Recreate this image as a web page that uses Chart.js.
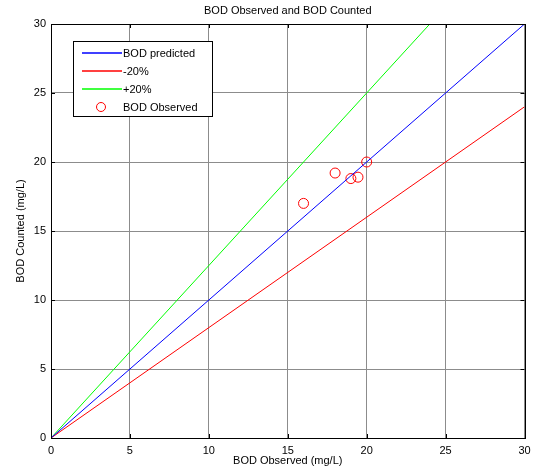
<!DOCTYPE html>
<html>
<head>
<meta charset="utf-8">
<script src="https://cdn.jsdelivr.net/npm/chart.js@4.4.1/dist/chart.umd.min.js"></script>
<style>
  html, body { margin: 0; padding: 0; background: #fff; }
  canvas { display: block; }
</style>
</head>
<body>
<canvas id="chart" width="533" height="475"></canvas>
<script>
// axis ticks (both axes 0..30)
const axisTicks = [0, 5, 10, 15, 20, 25, 30];

// reference lines: end points
const predictedX = [0, 30], predictedY = [0, 30];
const minusX = [0, 30], minusY = [0, 24];
const plusX = [0, 24], plusY = [0, 30];

// observed points
const observedX = [16, 18, 19, 19.45, 20];
const observedY = [17, 19.2, 18.8, 18.9, 20];

const seriesLabels = ['BOD predicted', '-20%', '+20%', 'BOD Observed'];
const seriesColors = ['#0000ff', '#ff0000', '#00ff00', '#ff0000'];

const titleText = 'BOD Observed and BOD Counted';
const xTitle = 'BOD Observed (mg/L)';
const yTitle = 'BOD Counted (mg/L)';

const FONT = "'Liberation Sans', Arial, sans-serif";

const pts = (xs, ys) => xs.map((x, i) => ({ x, y: ys[i] }));

const lineSet = (i, xs, ys) => ({
  label: seriesLabels[i],
  data: pts(xs, ys),
  showLine: true,
  borderColor: seriesColors[i],
  backgroundColor: seriesColors[i],
  borderWidth: 1,
  pointRadius: 0,
  pointHoverRadius: 0,
  fill: false,
});

// frame, inward ticks, titles and legend box
const decor = {
  id: 'decor',
  afterDatasetsDraw(chart) {
    const { ctx, chartArea: a, scales: { x, y } } = chart;
    ctx.save();
    ctx.strokeStyle = '#000';
    ctx.lineWidth = 1;
    ctx.strokeRect(Math.round(a.left) + 0.5, Math.round(a.top) + 0.5,
      Math.round(a.right - a.left), Math.round(a.bottom - a.top));
    ctx.beginPath();
    axisTicks.forEach(v => {
      const px = Math.round(x.getPixelForValue(v)) + 0.5;
      const py = Math.round(y.getPixelForValue(v)) + 0.5;
      ctx.moveTo(px, a.bottom); ctx.lineTo(px, a.bottom - 4);
      ctx.moveTo(px, a.top); ctx.lineTo(px, a.top + 4);
      ctx.moveTo(a.left, py); ctx.lineTo(a.left + 4, py);
      ctx.moveTo(a.right, py); ctx.lineTo(a.right - 4, py);
    });
    ctx.stroke();

    // texts
    ctx.fillStyle = '#000';
    ctx.font = '11px ' + FONT;
    ctx.textAlign = 'center';
    ctx.textBaseline = 'middle';
    const cx = (a.left + a.right) / 2;
    ctx.fillText(titleText, cx, 11);
    ctx.fillText(xTitle, cx, 461);
    ctx.save();
    ctx.translate(21, (a.top + a.bottom) / 2);
    ctx.rotate(-Math.PI / 2);
    ctx.fillText(yTitle, 0, 0);
    ctx.restore();

    // legend
    const bx = 73.5, by = 41.5, bw = 139, bh = 75;
    ctx.fillStyle = '#fff';
    ctx.fillRect(bx, by, bw, bh);
    ctx.strokeStyle = '#000';
    ctx.strokeRect(bx, by, bw, bh);
    const rows = [53, 71, 89, 107];
    seriesLabels.forEach((label, i) => {
      const ry = rows[i];
      ctx.lineWidth = 1.3;
      ctx.strokeStyle = seriesColors[i];
      ctx.beginPath();
      if (i < 3) {
        ctx.moveTo(82, ry);
        ctx.lineTo(122, ry);
      } else {
        ctx.lineWidth = 1;
        ctx.arc(101, ry, 4.5, 0, Math.PI * 2);
      }
      ctx.stroke();
      ctx.fillStyle = '#000';
      ctx.textAlign = 'left';
      ctx.fillText(label, 123, ry + 1);
    });
    ctx.restore();
  }
};

new Chart(document.getElementById('chart'), {
  type: 'scatter',
  data: {
    datasets: [
      lineSet(0, predictedX, predictedY),
      lineSet(1, minusX, minusY),
      lineSet(2, plusX, plusY),
      {
        label: seriesLabels[3],
        data: pts(observedX, observedY),
        showLine: false,
        pointStyle: 'circle',
        pointRadius: 5,
        pointHoverRadius: 5,
        borderColor: seriesColors[3],
        backgroundColor: 'rgba(0,0,0,0)',
        borderWidth: 1,
      }
    ]
  },
  options: {
    responsive: false,
    animation: false,
    events: [],
    layout: { padding: { top: 24, right: 8.5, left: 0, bottom: 0 } },
    plugins: {
      legend: { display: false },
      title: { display: false },
      tooltip: { enabled: false }
    },
    scales: {
      x: {
        type: 'linear',
        min: 0, max: 30,
        afterBuildTicks: s => { s.ticks = axisTicks.map(v => ({ value: v })); },
        afterFit: s => { s.height = 37; s.paddingLeft = 0; s.paddingRight = 0; },
        grid: { color: '#8c8c8c', drawTicks: false, tickLength: 0 },
        border: { color: '#000' },
        ticks: {
          color: '#000',
          padding: 6,
          maxRotation: 0,
          font: { family: FONT, size: 11 }
        }
      },
      y: {
        type: 'linear',
        min: 0, max: 30,
        afterBuildTicks: s => { s.ticks = axisTicks.map(v => ({ value: v })); },
        afterFit: s => { s.width = 51; s.paddingTop = 0; s.paddingBottom = 0; },
        grid: { color: '#8c8c8c', drawTicks: false, tickLength: 0 },
        border: { color: '#000' },
        ticks: {
          color: '#000',
          padding: 5,
          font: { family: FONT, size: 11 }
        }
      }
    }
  },
  plugins: [decor]
});
</script>
</body>
</html>
